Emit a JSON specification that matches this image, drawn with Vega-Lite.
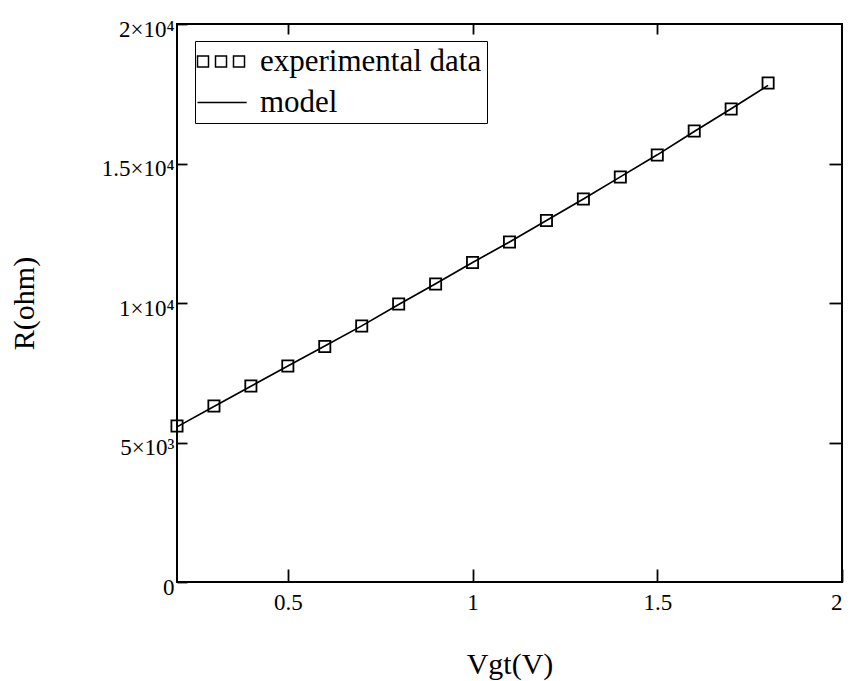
{
  "$schema": "https://vega.github.io/schema/vega-lite/v6.json",
  "width": 665,
  "height": 558,
  "autosize": {"type": "none"},
  "padding": {"left": 177, "top": 24, "right": 9, "bottom": 99},
  "background": "white",
  "config": {
    "font": "Liberation Serif",
    "view": {"stroke": "black", "strokeWidth": 2},
    "axis": {
      "domain": false,
      "grid": false,
      "tickColor": "black",
      "tickWidth": 1.8,
      "labelColor": "black",
      "labelFont": "Liberation Serif",
      "labelFontSize": 23,
      "titleFont": "Liberation Serif",
      "titleFontSize": 30,
      "titleFontWeight": "normal",
      "titleColor": "black"
    }
  },
  "datasets": {
    "exp": [
      {"Vgt": 0.2, "R": 5591, "series": "experimental data"},
      {"Vgt": 0.3, "R": 6308, "series": "experimental data"},
      {"Vgt": 0.4, "R": 7025, "series": "experimental data"},
      {"Vgt": 0.5, "R": 7742, "series": "experimental data"},
      {"Vgt": 0.6, "R": 8441, "series": "experimental data"},
      {"Vgt": 0.7, "R": 9176, "series": "experimental data"},
      {"Vgt": 0.8, "R": 9964, "series": "experimental data"},
      {"Vgt": 0.9, "R": 10681, "series": "experimental data"},
      {"Vgt": 1.0, "R": 11452, "series": "experimental data"},
      {"Vgt": 1.1, "R": 12186, "series": "experimental data"},
      {"Vgt": 1.2, "R": 12957, "series": "experimental data"},
      {"Vgt": 1.3, "R": 13728, "series": "experimental data"},
      {"Vgt": 1.4, "R": 14516, "series": "experimental data"},
      {"Vgt": 1.5, "R": 15305, "series": "experimental data"},
      {"Vgt": 1.6, "R": 16165, "series": "experimental data"},
      {"Vgt": 1.7, "R": 16953, "series": "experimental data"},
      {"Vgt": 1.8, "R": 17885, "series": "experimental data"}
    ],
    "model": [
      {"Vgt": 0.2, "R": 5560, "series": "model"},
      {"Vgt": 0.3, "R": 6290, "series": "model"},
      {"Vgt": 0.4, "R": 7015, "series": "model"},
      {"Vgt": 0.5, "R": 7740, "series": "model"},
      {"Vgt": 0.6, "R": 8455, "series": "model"},
      {"Vgt": 0.7, "R": 9180, "series": "model"},
      {"Vgt": 0.8, "R": 9950, "series": "model"},
      {"Vgt": 0.9, "R": 10690, "series": "model"},
      {"Vgt": 1.0, "R": 11450, "series": "model"},
      {"Vgt": 1.1, "R": 12190, "series": "model"},
      {"Vgt": 1.2, "R": 12960, "series": "model"},
      {"Vgt": 1.3, "R": 13730, "series": "model"},
      {"Vgt": 1.4, "R": 14520, "series": "model"},
      {"Vgt": 1.5, "R": 15310, "series": "model"},
      {"Vgt": 1.6, "R": 16150, "series": "model"},
      {"Vgt": 1.7, "R": 16960, "series": "model"},
      {"Vgt": 1.8, "R": 17800, "series": "model"}
    ]
  },
  "resolve": {"axis": {"x": "independent", "y": "independent"}},
  "layer": [
    {
      "data": {"name": "model"},
      "mark": {"type": "line", "strokeWidth": 1.7},
      "encoding": {
        "x": {"field": "Vgt", "type": "quantitative", "scale": {"domain": [0.2, 2], "nice": false, "zero": false}, "axis": null},
        "y": {"field": "R", "type": "quantitative", "scale": {"domain": [0, 20000], "nice": false}, "axis": null},
        "color": {
          "field": "series",
          "type": "nominal",
          "scale": {"domain": ["experimental data", "model"], "range": ["black", "black"]},
          "legend": {
            "title": null,
            "orient": "none",
            "legendX": 18,
            "legendY": 17,
            "strokeColor": "black",
            "fillColor": "white",
            "padding": 5,
            "rowPadding": 9,
            "labelFont": "Liberation Serif",
            "labelFontSize": 31,
            "labelColor": "black",
            "labelOffset": 29,
            "labelLimit": 400,
            "symbolSize": 576,
            "symbolStrokeWidth": 1.5,
            "symbolFillColor": "transparent",
            "encode": {
              "symbols": {
                "update": {
                  "shape": {"signal": "datum.value === 'model' ? 'M-1.5,0H2.6' : 'M-1.5,-0.458H-0.583V0.458H-1.5Z M0,-0.458H0.917V0.458H0Z M1.5,-0.458H2.417V0.458H1.5Z'"},
                  "fill": {"value": "transparent"},
                  "stroke": {"value": "black"},
                  "strokeWidth": {"value": 1.5},
                  "opacity": {"value": 1}
                }
              }
            }
          }
        }
      }
    },
    {
      "data": {"name": "exp"},
      "mark": {"type": "point", "shape": "square", "filled": false, "size": 125, "strokeWidth": 1.8, "opacity": 1},
      "encoding": {
        "x": {
          "field": "Vgt", "type": "quantitative",
          "axis": {"orient": "bottom", "values": [0.5, 1, 1.5, 2], "format": "~g", "tickSize": -13, "labelPadding": 40, "labelBaseline": "alphabetic", "title": "Vgt(V)", "titleBaseline": "alphabetic", "titleY": 91}
        },
        "y": {
          "field": "R", "type": "quantitative",
          "axis": {
            "orient": "left",
            "values": [0, 5000, 10000, 15000, 20000],
            "labelExpr": "datum.value == 0 ? '0' : datum.value == 5000 ? '5×10³' : datum.value == 10000 ? '1×10⁴' : datum.value == 15000 ? '1.5×10⁴' : '2×10⁴'",
            "tickSize": -10,
            "labelPadding": 13,
            "labelBaseline": "alphabetic",
            "labelOffset": 12,
            "title": "R(ohm)",
            "titleBaseline": "alphabetic",
            "titleX": -144,
            "titleY": 279
          }
        },
        "color": {"field": "series", "type": "nominal"}
      }
    },
    {
      "data": {"name": "exp"},
      "mark": {"type": "point", "opacity": 0},
      "encoding": {
        "x": {"field": "Vgt", "type": "quantitative", "axis": {"orient": "top", "values": [0.5, 1, 1.5], "labels": false, "tickSize": -10, "title": null}},
        "y": {"field": "R", "type": "quantitative", "axis": {"orient": "right", "values": [5000, 10000, 15000], "labels": false, "tickSize": -13, "title": null}}
      }
    }
  ]
}
